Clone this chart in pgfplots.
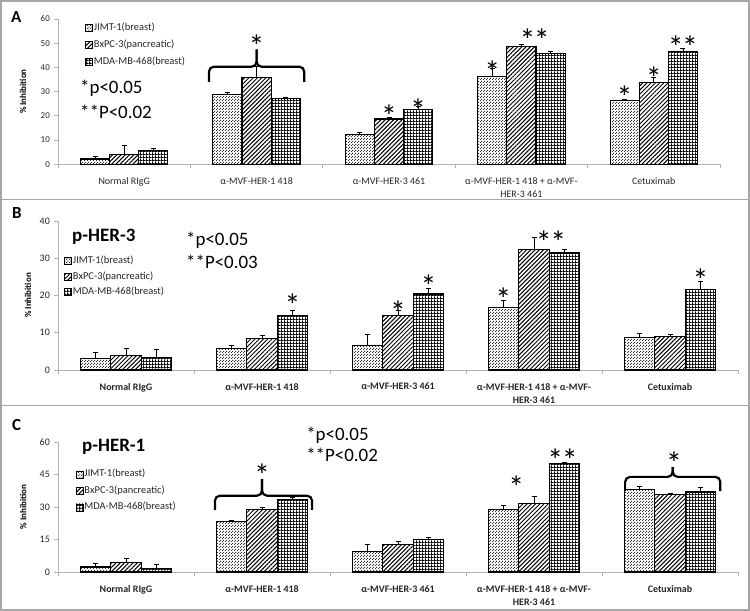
\documentclass[border=0pt]{standalone}
\usepackage{pgfplots}
\pgfplotsset{compat=1.18}
\usepackage{fontspec}
\setmainfont{Carlito}
\usetikzlibrary{patterns,patterns.meta}

\pgfdeclarepatternformonly{jimt}{\pgfpointorigin}{\pgfpoint{3bp}{3bp}}{\pgfpoint{3bp}{3bp}}{%
  \pgfpathrectangle{\pgfpointorigin}{\pgfpoint{1.3bp}{1.3bp}}%
  \pgfpathrectangle{\pgfpoint{1.5bp}{1.5bp}}{\pgfpoint{1.3bp}{1.3bp}}%
  \pgfusepath{fill}}
\pgfdeclarepatternformonly{mda}{\pgfpointorigin}{\pgfpoint{3.2bp}{3.2bp}}{\pgfpoint{3.2bp}{3.2bp}}{%
  \pgfpathrectangle{\pgfpointorigin}{\pgfpoint{3.2bp}{1.2bp}}%
  \pgfpathrectangle{\pgfpointorigin}{\pgfpoint{1.2bp}{3.2bp}}%
  \pgfusepath{fill}}

\pgfplotsset{
  ybar legend/.style={legend image code/.code={\draw[##1, line width=0.6bp] (0bp,-3.5bp) rectangle (7bp,3.5bp);}},
  barJ/.style={draw=black, line width=1.1bp, pattern=jimt, pattern color=black!80},
  barB/.style={draw=black, line width=1.1bp, pattern={Lines[angle=45,distance=3bp,line width=1bp]}, pattern color=black},
  barM/.style={draw=black, line width=1.1bp, pattern=mda, pattern color=black},
  errs/.style={error bars/y dir=plus, error bars/y explicit,
    error bars/error bar style={black, line width=0.8bp},
    error bars/error mark options={black, rotate=90, mark size=2.5bp, line width=0.8bp}},
  panel/.style={
    scale only axis, clip=false,
    ybar=0pt,
    xmin=0.5, xmax=5.5, ymin=0,
    axis x line*=bottom, axis y line*=left,
    axis line style={draw=gray!60, line width=0.8bp, -},
    tick align=outside, major tick length=4bp,
    xtick={1,2,3,4,5},
    xtick style={draw=none},
    extra x ticks={0.5,1.5,2.5,3.5,4.5,5.5},
    extra x tick labels={},
    extra x tick style={xtick style={draw=gray!60, line width=0.8bp}},
    ytick style={draw=gray!60, line width=0.8bp},
    /pgf/number format/assume math mode=true,
    yticklabel style={inner sep=0pt, xshift=-4bp, text=black!85},
    xticklabel style={anchor=north, inner sep=0pt, yshift=-9bp, align=center, text=black!85},
    every axis y label/.style={rotate=90, anchor=center, font=\bfseries\fontsize{9}{10}\selectfont},
    legend cell align=left,
    legend style={draw=none, fill=none, anchor=north west, inner sep=0pt,
      font=\fontsize{10.5}{12}\selectfont, text=black!85,
      nodes={inner sep=1bp, text height=7.5bp, text depth=2.5bp}},
  },
}
\tikzset{
  star/.style={anchor=north, inner sep=0pt, font=\fontsize{32}{32}\selectfont},
  brace/.style={line width=2.2bp, rounded corners=5bp, black},
  ptxt/.style={anchor=west, inner sep=0pt, font=\fontsize{19}{20}\selectfont},
}
\newcommand{\dstar}{*\kern-1.5bp*}

\begin{document}
\begin{tikzpicture}
\useasboundingbox (0bp,0bp) rectangle (750bp,611bp);
\draw[gray!70, line width=1.5bp] (1bp,1bp) rectangle (749bp,610bp);
\draw[gray!70, line width=1.5bp] (1bp,411.5bp) -- (749bp,411.5bp);
\draw[gray!70, line width=1.5bp] (1bp,205.5bp) -- (749bp,205.5bp);

\node[font=\bfseries\fontsize{17}{17}\selectfont, anchor=west, inner sep=0pt] at (11bp,594bp) {A};
\node[font=\bfseries\fontsize{17}{17}\selectfont, anchor=west, inner sep=0pt] at (12bp,398bp) {B};
\node[font=\bfseries\fontsize{17}{17}\selectfont, anchor=west, inner sep=0pt] at (12bp,186bp) {C};

% ---------------- Panel A ----------------
\begin{axis}[panel, at={(58bp,446.7bp)}, anchor=south west, width=662bp, height=145.3bp,
  ymax=60, ytick={0,10,...,60}, bar width=0.22,
  yticklabel style={font=\fontsize{9}{10}\selectfont},
  xticklabels={Normal RIgG, α-MVF-HER-1 418, α-MVF-HER-3 461, {α-MVF-HER-1 418 + α-MVF-\\HER-3 461}, Cetuximab},
  xticklabel style={font=\fontsize{10}{13}\selectfont},
  ylabel={\% Inhibition}, ylabel style={at={(axis description cs:-0.053,0.5)}},
  legend style={at={(0.041,0.979)}, row sep=5bp}]
\addplot[barJ, errs] table[x=x, y=y, y error=e, row sep=\\] {x y e\\ 1 2.2 1.2\\ 2 28.9 0.6\\ 3 12.4 0.8\\ 4 36.2 3.5\\ 5 26.2 0.8\\};
\addplot[barB, errs] table[x=x, y=y, y error=e, row sep=\\] {x y e\\ 1 3.9 3.7\\ 2 35.8 4.6\\ 3 18.7 0.7\\ 4 48.5 1.1\\ 5 33.7 2.1\\};
\addplot[barM, errs] table[x=x, y=y, y error=e, row sep=\\] {x y e\\ 1 5.7 0.9\\ 2 27.0 0.8\\ 3 22.7 1.1\\ 4 45.9 0.7\\ 5 46.6 1.1\\};
\legend{JIMT-1(breast), BxPC-3(pancreatic), MDA-MB-468(breast)}
\node[ptxt] at (axis cs:0.666,31.5) {*p<0.05};
\node[ptxt] at (axis cs:0.666,21.6) {**P<0.02};
\draw[brace] (axis cs:1.64,34) -- (axis cs:1.64,40.3) -- (axis cs:2,40.3) -- (axis cs:2,47.5);
\draw[brace] (axis cs:2.36,34) -- (axis cs:2.36,40.3) -- (axis cs:2,40.3) -- (axis cs:2,47.5);
\node[star] at (axis cs:2,53.4) {*};
\node[star] at (axis cs:3,24.5) {*};
\node[star] at (axis cs:3.22,27.0) {*};
\node[star] at (axis cs:3.78,42.7) {*};
\node[star] at (axis cs:4.10,55.9) {\dstar};
\node[star] at (axis cs:4.78,32.3) {*};
\node[star] at (axis cs:5,40.2) {*};
\node[star] at (axis cs:5.22,53) {\dstar};
\end{axis}

% ---------------- Panel B ----------------
\begin{axis}[panel, at={(58bp,241bp)}, anchor=south west, width=680bp, height=149bp,
  ymax=40, ytick={0,10,...,40}, bar width=0.225,
  yticklabel style={font=\fontsize{10}{11}\selectfont},
  xticklabels={Normal RIgG, α-MVF-HER-1 418, α-MVF-HER-3 461, {α-MVF-HER-1 418 + α-MVF-\\HER-3 461}, Cetuximab},
  xticklabel style={font=\bfseries\fontsize{10}{13}\selectfont},
  ylabel={\% Inhibition}, ylabel style={at={(axis description cs:-0.044,0.5)}},
  legend style={at={(0.009,0.772)}, row sep=3.5bp}]
\addplot[barJ, errs] table[x=x, y=y, y error=e, row sep=\\] {x y e\\ 1 3.1 1.6\\ 2 5.8 0.8\\ 3 6.5 3.0\\ 4 16.8 1.9\\ 5 8.7 1.2\\};
\addplot[barB, errs] table[x=x, y=y, y error=e, row sep=\\] {x y e\\ 1 3.9 1.8\\ 2 8.5 0.8\\ 3 14.7 1.2\\ 4 32.3 3.3\\ 5 9.0 0.6\\};
\addplot[barM, errs] table[x=x, y=y, y error=e, row sep=\\] {x y e\\ 1 3.4 2.2\\ 2 14.6 1.5\\ 3 20.4 1.5\\ 4 31.4 1.0\\ 5 21.5 2.2\\};
\legend{JIMT-1(breast), BxPC-3(pancreatic), MDA-MB-468(breast)}
\node[ptxt, font=\bfseries\fontsize{19}{20}\selectfont] at (axis cs:0.603,35.7) {p-HER-3};
\node[ptxt] at (axis cs:1.441,34.9) {*p<0.05};
\node[ptxt] at (axis cs:1.441,29.0) {**P<0.03};
\node[star] at (axis cs:2.225,20.4) {*};
\node[star] at (axis cs:3,18.5) {*};
\node[star] at (axis cs:3.225,25.5) {*};
\node[star] at (axis cs:3.775,22) {*};
\node[star] at (axis cs:4.125,37.3) {\dstar};
\node[star] at (axis cs:5.225,27.1) {*};
\end{axis}

% ---------------- Panel C ----------------
\begin{axis}[panel, at={(58bp,39bp)}, anchor=south west, width=680bp, height=129.7bp,
  ymax=60, ytick={0,15,...,60}, bar width=0.225,
  yticklabel style={font=\fontsize{10}{11}\selectfont},
  xticklabels={Normal RIgG, α-MVF-HER-1 418, α-MVF-HER-3 461, {α-MVF-HER-1 418 + α-MVF-\\HER-3 461}, Cetuximab},
  xticklabel style={font=\bfseries\fontsize{10}{13}\selectfont},
  ylabel={\% Inhibition}, ylabel style={at={(axis description cs:-0.051,0.5)}},
  legend style={at={(0.026,0.80)}, row sep=4.5bp}]
\addplot[barJ, errs] table[x=x, y=y, y error=e, row sep=\\] {x y e\\ 1 2.3 1.6\\ 2 23.2 0.8\\ 3 9.3 3.4\\ 4 28.9 1.7\\ 5 38.3 1.3\\};
\addplot[barB, errs] table[x=x, y=y, y error=e, row sep=\\] {x y e\\ 1 4.6 1.6\\ 2 28.9 0.8\\ 3 12.7 1.3\\ 4 31.5 3.4\\ 5 35.9 0.6\\};
\addplot[barM, errs] table[x=x, y=y, y error=e, row sep=\\] {x y e\\ 1 1.5 2.1\\ 2 33.7 0.9\\ 3 15.0 1.2\\ 4 50.2 0.5\\ 5 37.0 2.0\\};
\legend{JIMT-1(breast), BxPC-3(pancreatic), MDA-MB-468(breast)}
\node[ptxt, font=\bfseries\fontsize{19}{20}\selectfont] at (axis cs:0.676,57.8) {p-HER-1};
\node[ptxt] at (axis cs:2.324,63.3) {*p<0.05};
\node[ptxt] at (axis cs:2.324,54.1) {**P<0.02};
\draw[brace] (axis cs:1.654,28.7) -- (axis cs:1.654,35.3) -- (axis cs:2,35.3) -- (axis cs:2,43);
\draw[brace] (axis cs:2.368,28.7) -- (axis cs:2.368,35.3) -- (axis cs:2,35.3) -- (axis cs:2,43);
\node[star] at (axis cs:2,50) {*};
\node[star] at (axis cs:3.87,44.4) {*};
\node[star] at (axis cs:4.21,56.9) {\dstar};
\draw[brace] (axis cs:4.67,37.4) -- (axis cs:4.67,44) -- (axis cs:5.02,44) -- (axis cs:5.02,48.5);
\draw[brace] (axis cs:5.37,37.4) -- (axis cs:5.37,44) -- (axis cs:5.02,44) -- (axis cs:5.02,48.5);
\node[star] at (axis cs:5.03,55.5) {*};
\end{axis}
\end{tikzpicture}
\end{document}
